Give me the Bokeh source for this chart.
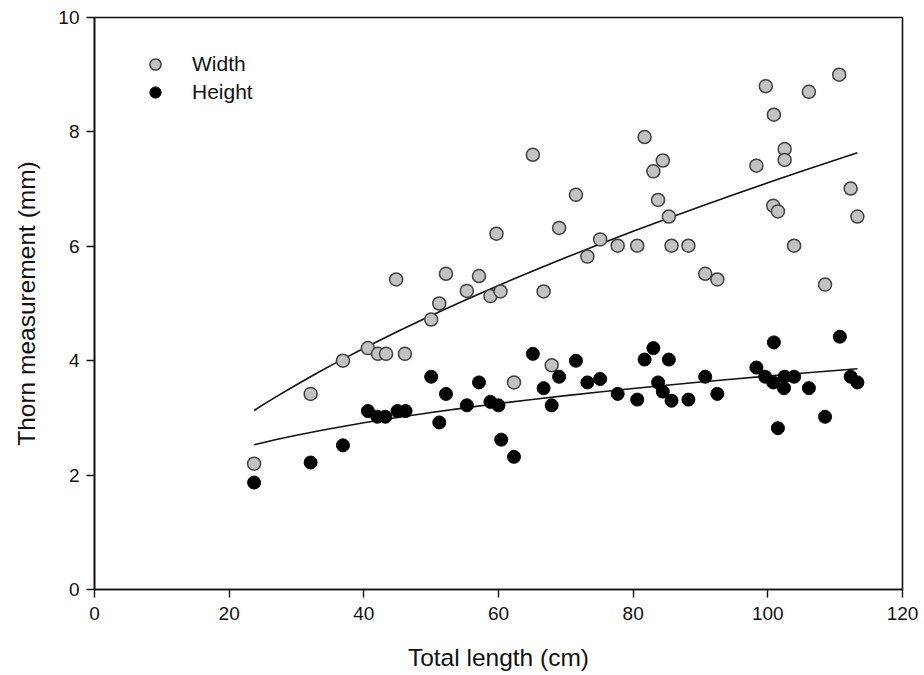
from bokeh.plotting import figure
from bokeh.models import Range1d, FixedTicker, Legend, LegendItem, ColumnDataSource
from bokeh.embed import file_html
from bokeh.resources import INLINE

# ---- data ----
length_cm = [23.7, 32.1, 36.9, 40.6, 42.1, 43.3, 44.8, 46.1, 50.0, 51.2, 52.2, 55.3,
             57.1, 58.8, 59.7, 60.3, 62.3, 65.1, 66.7, 67.9, 69.0, 71.5, 73.2, 75.1,
             77.7, 80.6, 81.7, 83.0, 83.7, 84.4, 85.3, 85.7, 88.2, 90.7, 92.5, 98.3,
             99.7, 100.8, 100.9, 101.5, 102.5, 102.5, 103.9, 106.1, 108.5, 110.6, 112.3, 113.3]
width_mm = [2.2, 3.42, 4.0, 4.22, 4.12, 4.12, 5.42, 4.12, 4.72, 5.0, 5.52, 5.22,
            5.48, 5.13, 6.22, 5.21, 3.62, 7.6, 5.21, 3.92, 6.32, 6.9, 5.82, 6.12,
            6.01, 6.01, 7.91, 7.31, 6.81, 7.5, 6.52, 6.01, 6.01, 5.52, 5.42, 7.41,
            8.8, 6.71, 8.3, 6.61, 7.7, 7.51, 6.01, 8.7, 5.33, 9.0, 7.01, 6.52]

height_x = [23.7, 32.1, 36.9, 40.6, 42.0, 43.2, 45.0, 46.2, 50.0, 51.2, 52.2, 55.3,
            57.1, 58.8, 60.0, 60.4, 62.3, 65.1, 66.7, 67.9, 69.0, 71.5, 73.2, 75.1,
            77.7, 80.6, 81.7, 83.0, 83.7, 84.4, 85.3, 85.7, 88.2, 90.7, 92.5, 98.3,
            99.6, 100.9, 100.8, 101.5, 102.5, 102.4, 103.9, 106.1, 108.5, 110.7, 112.3, 113.3]
height_mm = [1.87, 2.22, 2.52, 3.12, 3.02, 3.02, 3.12, 3.12, 3.72, 2.92, 3.42, 3.22,
             3.62, 3.28, 3.22, 2.62, 2.32, 4.12, 3.52, 3.22, 3.72, 4.0, 3.62, 3.68,
             3.42, 3.32, 4.02, 4.22, 3.62, 3.46, 4.02, 3.3, 3.32, 3.72, 3.42, 3.88,
             3.72, 4.32, 3.62, 2.82, 3.72, 3.52, 3.72, 3.52, 3.02, 4.42, 3.72, 3.62]

# fitted curves
fit_x = [23.7, 25, 27, 30, 33, 35, 40, 45, 50, 55, 60, 65, 70, 75, 80, 85, 90, 95, 100, 105, 113.3]
fit_width = [3.130, 3.227, 3.371, 3.580, 3.780, 3.909, 4.218, 4.511, 4.790, 5.057, 5.315,
             5.563, 5.803, 6.036, 6.262, 6.482, 6.696, 6.906, 7.111, 7.311, 7.635]
fit_height = [2.530, 2.567, 2.621, 2.696, 2.767, 2.811, 2.914, 3.008, 3.095, 3.176, 3.251,
              3.322, 3.389, 3.453, 3.514, 3.572, 3.627, 3.681, 3.732, 3.781, 3.860]

x_ticks = [0, 20, 40, 60, 80, 100, 120]
y_ticks = [0, 2, 4, 6, 8, 10]

FONT = "Liberation Sans"

p = figure(width=924, height=675, output_backend="svg", toolbar_location=None,
           x_range=Range1d(0, 120), y_range=Range1d(0, 10),
           min_border_left=94, min_border_right=22, min_border_top=17, min_border_bottom=86)
p.background_fill_color = "white"
p.border_fill_color = "white"
p.xgrid.visible = False
p.ygrid.visible = False
p.outline_line_color = "#111111"
p.outline_line_width = 1.6

for ax in (p.xaxis[0], p.yaxis[0]):
    ax.axis_line_width = 1.6
    ax.axis_line_color = "#111111"
    ax.major_tick_line_color = "#111111"
    ax.major_tick_line_width = 1.4
    ax.major_tick_in = 0
    ax.major_tick_out = 8
    ax.minor_tick_line_color = None
    ax.major_label_text_font = FONT
    ax.major_label_text_font_size = "19px"
    ax.major_label_text_color = "#111111"
    ax.axis_label_text_font = FONT
    ax.axis_label_text_font_size = "24.5px"
    ax.axis_label_text_font_style = "normal"
    ax.axis_label_text_color = "#111111"

p.xaxis.ticker = FixedTicker(ticks=x_ticks)
p.yaxis.ticker = FixedTicker(ticks=y_ticks)
p.xaxis.axis_label = "Total length (cm)"
p.yaxis.axis_label = "Thorn measurement (mm)"
p.xaxis.major_label_standoff = 9
p.yaxis.major_label_standoff = 7
p.xaxis.axis_label_standoff = 21
p.yaxis.axis_label_standoff = 15

p.line(fit_x, fit_width, line_color="#111111", line_width=1.6)
p.line(fit_x, fit_height, line_color="#111111", line_width=1.6)

src_w = ColumnDataSource(dict(x=length_cm, y=width_mm))
src_h = ColumnDataSource(dict(x=height_x, y=height_mm))
rw = p.scatter("x", "y", source=src_w, size=13, marker="circle",
               fill_color="#c2c2c2", line_color="#404040", line_width=1.5)
rh = p.scatter("x", "y", source=src_h, size=13, marker="circle",
               fill_color="#000000", line_color="#000000", line_width=1.0)

legend = Legend(items=[LegendItem(label="Width", renderers=[rw]),
                       LegendItem(label="Height", renderers=[rh])],
                location=(46, 483), orientation="vertical")
legend.glyph_width = 30
legend.glyph_height = 28
legend.label_height = 28
legend.spacing = 0
legend.padding = 0
legend.margin = 0
legend.label_standoff = 22
legend.border_line_color = None
legend.background_fill_alpha = 0
legend.label_text_font = FONT
legend.label_text_font_size = "21px"
legend.label_text_color = "#111111"
p.add_layout(legend, "center")

open("out.html", "w").write(file_html(p, INLINE))
